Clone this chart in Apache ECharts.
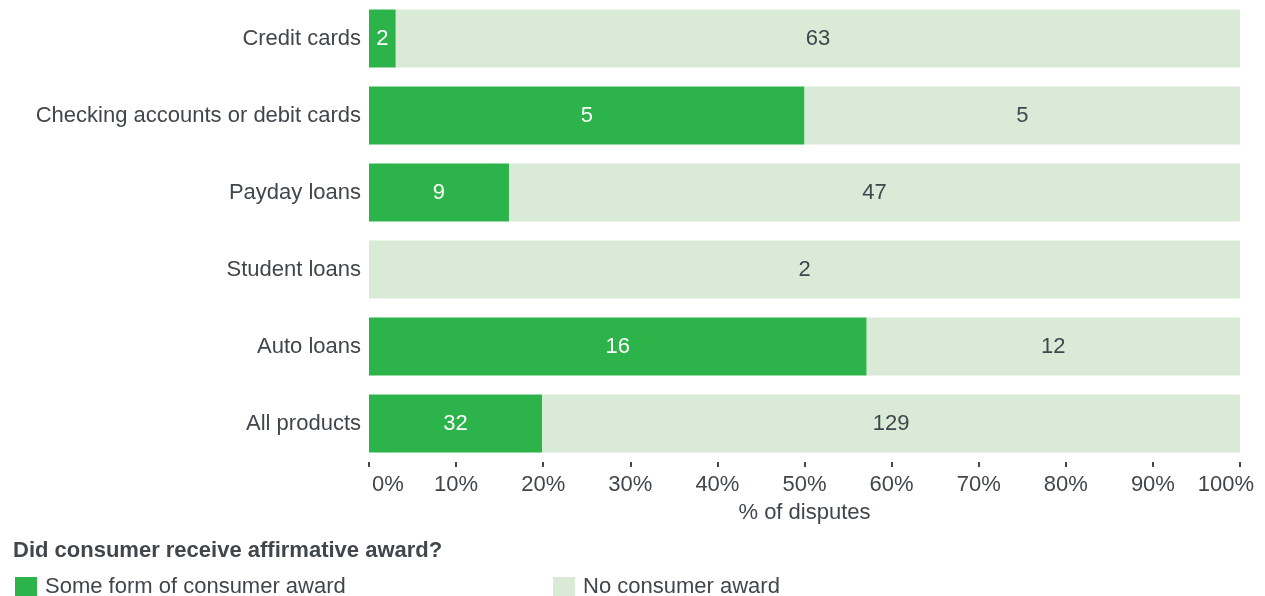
<!DOCTYPE html>
<html>
<head>
<meta charset="utf-8">
<script src="https://cdn.jsdelivr.net/npm/echarts@6/dist/echarts.min.js"></script>
<style>html,body{margin:0;padding:0;background:#fff}#c{width:1265px;height:596px}</style>
</head>
<body>
<div id="c"></div>
<script>
const categories = ['Credit cards', 'Checking accounts or debit cards', 'Payday loans', 'Student loans', 'Auto loans', 'All products'];
const awardCounts = [2, 5, 9, 0, 16, 32];
const noAwardCounts = [63, 5, 47, 2, 12, 129];
const seriesNames = ['Some form of consumer award', 'No consumer award'];
const xTicks = [0, 10, 20, 30, 40, 50, 60, 70, 80, 90, 100];

const FONT = 'Liberation Sans, Arial, sans-serif';
const FS = 22;
const TXT = '#41464c';
const GREEN = '#2cb34a';
const LIGHT = '#d9ebd6';

const totals = awardCounts.map((a, i) => a + noAwardCounts[i]);
const pct = (arr) => arr.map((v, i) => ({ value: v / totals[i] * 100, count: v }));

const chart = echarts.init(document.getElementById('c'), null, { renderer: 'canvas' });
chart.setOption({
  animation: false,
  textStyle: { fontFamily: FONT },
  grid: { left: 369, right: 25, top: 0, bottom: 134, containLabel: false },
  title: {
    text: 'Did consumer receive affirmative award?',
    left: 8, top: 535,
    textStyle: { fontFamily: FONT, fontSize: FS, fontWeight: 'bold', color: TXT }
  },
  legend: [
    { data: [seriesNames[0]], left: 10, top: 571, itemWidth: 22, itemHeight: 20, icon: 'rect',
      textStyle: { fontFamily: FONT, fontSize: FS, color: TXT, padding: [0, 0, 0, 3] } },
    { data: [seriesNames[1]], left: 548, top: 571, itemWidth: 22, itemHeight: 20, icon: 'rect',
      textStyle: { fontFamily: FONT, fontSize: FS, color: TXT, padding: [0, 0, 0, 3] } }
  ],
  xAxis: {
    type: 'value', min: 0, max: 100, interval: 10,
    name: '% of disputes', nameLocation: 'middle', nameGap: 40,
    nameTextStyle: { fontFamily: FONT, fontSize: FS, color: TXT },
    axisLine: { show: false },
    axisTick: { show: true, length: 5, lineStyle: { color: '#43484e', width: 2 } },
    splitLine: { show: false },
    axisLabel: {
      fontFamily: FONT, fontSize: FS, color: TXT, margin: 12,
      formatter: (v) => xTicks.includes(v) ? (v === 0 ? '{a|0%}' : v === 100 ? '{b|100%}' : v + '%') : '',
      alignMinLabel: 'left', alignMaxLabel: 'center',
      rich: {
        a: { fontFamily: FONT, fontSize: FS, color: TXT, padding: [0, 0, 0, 3] },
        b: { fontFamily: FONT, fontSize: FS, color: TXT, padding: [0, 28, 0, 0] }
      }
    }
  },
  yAxis: {
    type: 'category', data: categories, inverse: true,
    axisLine: { show: false }, axisTick: { show: false },
    axisLabel: { fontFamily: FONT, fontSize: FS, color: TXT, margin: 8 }
  },
  series: [
    {
      name: seriesNames[0], type: 'bar', stack: 'all', barWidth: 58,
      itemStyle: { color: GREEN },
      data: pct(awardCounts),
      label: { show: true, position: 'inside', fontFamily: FONT, fontSize: FS, color: '#ffffff',
        formatter: (p) => p.data.count > 0 ? String(p.data.count) : '' }
    },
    {
      name: seriesNames[1], type: 'bar', stack: 'all', barWidth: 58,
      itemStyle: { color: LIGHT },
      data: pct(noAwardCounts),
      label: { show: true, position: 'inside', fontFamily: FONT, fontSize: FS, color: TXT,
        formatter: (p) => p.data.count > 0 ? String(p.data.count) : '' }
    }
  ]
});
</script>
</body>
</html>
